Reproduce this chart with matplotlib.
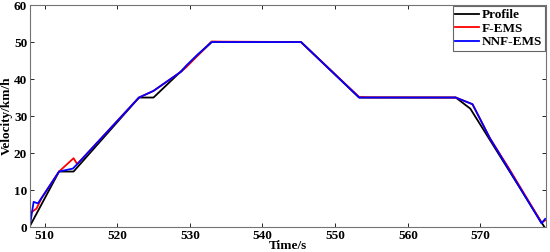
import numpy as np
import matplotlib.pyplot as plt

plt.rcParams['font.family'] = 'Liberation Serif'
plt.rcParams['font.weight'] = 'bold'
plt.rcParams['font.size'] = 9.5

# velocity data
t_profile = [508, 512, 514, 523, 525, 533, 545.3, 553.3, 566.6, 568.6, 578.8]
v_profile = [0.3, 15, 15, 35, 35, 50, 50, 35, 35, 32, 0]

t_fems = [508, 508.9, 509.6, 509.9, 512, 514, 514.5, 523, 525, 528.8, 529.5, 531, 533,
          534.5, 545.3, 553.3, 554.5, 566.6, 568.9, 571.3, 574, 578.4, 578.9]
v_fems = [3.7, 5, 7.8, 8.7, 15, 18.6, 17, 35, 36.8, 42, 43.2, 46.2, 50.15,
          50.1, 50, 35.15, 35.05, 35, 33.2, 24, 15.6, 1.2, 1.8]

t_nnf = [508, 508.5, 509.1, 512, 513.9, 514.6, 523, 525, 528.8, 529.5, 531, 533,
         545.3, 553.3, 566.6, 568.9, 571.3, 578.4, 578.9]
v_nnf = [0.5, 6.8, 6.4, 15, 15.8, 17.2, 35, 36.8, 42, 43.6, 46.5, 50,
         50, 35, 35, 33.2, 24, 1.0, 2.2]

fig = plt.figure(figsize=(5.5, 2.52), dpi=100)
ax = fig.add_axes([0.0545, 0.099, 0.938, 0.881])
ax.plot(t_profile, v_profile, color='black', lw=1.3, label='Profile')
ax.plot(t_fems, v_fems, color='red', lw=1.3, label='F-EMS')
ax.plot(t_nnf, v_nnf, color='blue', lw=1.3, label='NNF-EMS')

ax.set_xlim(508, 579)
ax.set_ylim(0, 60)
ax.set_xticks([510, 520, 530, 540, 550, 560, 570])
ax.set_yticks([0, 10, 20, 30, 40, 50, 60])
ax.tick_params(direction='in', top=True, right=True, length=3, width=0.6, pad=2,
               colors='black', labelsize=9.5)
for s in ax.spines.values():
    s.set_color('0.45')
    s.set_linewidth(0.8)
ax.set_xlabel('Time/s', fontweight='bold', labelpad=-1)
ax.set_ylabel('Velocity/km/h', fontweight='bold', labelpad=1)

leg = ax.legend(loc='upper right', fontsize=9.5, handlelength=1.8, handletextpad=0.2,
                borderpad=0.2, labelspacing=0.1, fancybox=False, framealpha=1,
                borderaxespad=0.1)
leg.get_frame().set_edgecolor('0.4')
leg.get_frame().set_linewidth(0.8)

fig.savefig('out.png', dpi=100)
